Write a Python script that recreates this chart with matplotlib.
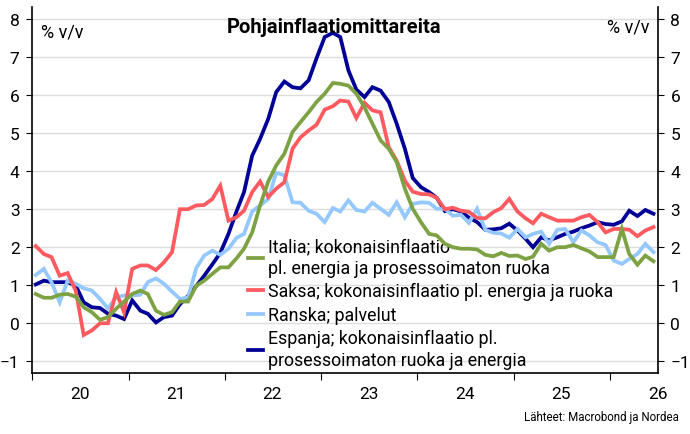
import numpy as np
import pandas as pd
import matplotlib
matplotlib.use("Agg")
from matplotlib import pyplot as plt
import matplotlib.dates as mdates
from datetime import datetime

plt.rcParams['font.family'] = ['Roboto', 'DejaVu Sans']

# Monthly data, Jan 2020 .. Jun 2026 (% y/y)
months = pd.date_range("2020-01-01", periods=78, freq="MS") + pd.Timedelta(days=14)

italy = [0.77, 0.67, 0.67, 0.75, 0.77, 0.70, 0.42, 0.29, 0.09, 0.16, 0.38, 0.57,
         0.77, 0.86, 0.77, 0.33, 0.22, 0.29, 0.57, 0.57, 0.99, 1.12, 1.30, 1.47,
         1.47, 1.71, 1.96, 2.39, 3.10, 3.73, 4.15, 4.46, 5.03, 5.29, 5.55, 5.82,
         6.04, 6.32, 6.30, 6.25, 6.04, 5.68, 5.25, 4.81, 4.59, 4.24, 3.54, 3.01,
         2.66, 2.35, 2.31, 2.09, 2.00, 1.96, 1.96, 1.94, 1.80, 1.76, 1.85, 1.77,
         1.78, 1.69, 1.75, 2.09, 1.91, 2.00, 2.00, 2.06, 1.97, 1.89, 1.74, 1.74,
         1.74, 2.48, 1.82, 1.54, 1.78, 1.63]

germany = [2.03, 1.82, 1.74, 1.25, 1.32, 0.85, -0.31, -0.19, 0.0, 0.0, 0.82, 0.29,
           1.43, 1.52, 1.52, 1.40, 1.60, 1.87, 3.00, 3.00, 3.10, 3.11, 3.27, 3.62,
           2.70, 2.79, 2.96, 3.45, 3.73, 3.32, 3.54, 3.71, 4.59, 4.89, 5.07, 5.22,
           5.62, 5.71, 5.86, 5.83, 5.40, 5.80, 5.60, 5.55, 4.63, 4.28, 3.75, 3.46,
           3.40, 3.39, 3.30, 3.00, 3.04, 2.96, 2.93, 2.77, 2.76, 2.92, 3.03, 3.27,
           2.94, 2.76, 2.63, 2.88, 2.79, 2.70, 2.70, 2.70, 2.79, 2.85, 2.66, 2.39,
           2.48, 2.48, 2.46, 2.29, 2.44, 2.53]

france = [1.27, 1.43, 1.08, 0.55, 1.12, 1.04, 0.92, 0.86, 0.64, 0.39, 0.68, 0.73,
          0.73, 0.75, 1.08, 1.18, 1.04, 0.83, 0.64, 0.68, 1.45, 1.78, 1.91, 1.80,
          1.96, 2.25, 2.35, 2.94, 3.10, 3.27, 3.96, 3.89, 3.18, 3.17, 2.96, 2.88,
          2.66, 3.03, 2.94, 3.23, 2.98, 2.94, 3.17, 3.01, 2.85, 3.18, 2.79, 3.14,
          3.18, 3.17, 3.01, 3.01, 2.83, 2.85, 2.64, 3.01, 2.46, 2.38, 2.36, 2.25,
          2.48, 2.26, 2.35, 2.41, 2.09, 2.46, 2.48, 2.13, 2.44, 2.31, 2.13, 2.06,
          1.65, 1.56, 1.69, 1.82, 2.09, 1.87]

spain = [1.02, 1.12, 1.08, 1.08, 1.08, 0.99, 0.55, 0.42, 0.40, 0.25, 0.20, 0.11,
         0.60, 0.33, 0.25, 0.02, 0.16, 0.20, 0.50, 0.72, 0.98, 1.25, 1.55, 1.85,
         2.35, 2.95, 3.45, 4.41, 4.85, 5.38, 6.08, 6.36, 6.21, 6.18, 6.39, 6.97,
         7.53, 7.64, 7.53, 6.65, 6.15, 5.95, 6.21, 6.12, 5.82, 5.25, 4.59, 3.82,
         3.58, 3.45, 3.30, 2.95, 3.00, 2.94, 2.78, 2.66, 2.46, 2.47, 2.50, 2.62,
         2.44, 2.22, 2.00, 2.26, 2.18, 2.26, 2.35, 2.41, 2.50, 2.57, 2.66, 2.61,
         2.59, 2.68, 2.96, 2.82, 2.98, 2.88]

labels = ["Italia; kokonaisinflaatio\npl. energia ja prosessoimaton ruoka",
          "Saksa; kokonaisinflaatio pl. energia ja ruoka",
          "Ranska; palvelut",
          "Espanja; kokonaisinflaatio pl.\nprosessoimaton ruoka ja energia"]
colors = ["#7da243", "#ff5a5f", "#94c8ff", "#000096"]
series = [italy, germany, france, spain]

fig = plt.figure(figsize=(6.9, 4.35), dpi=100)
ax = fig.add_axes([0.0464, 0.1402, 0.9072, 0.8414])

lines = [None] * 4
# Spain drawn first, Italy on top
for i in [3, 2, 1, 0]:
    lines[i], = ax.plot(months, series[i], color=colors[i], lw=2.7,
                        solid_joinstyle="miter", zorder=3 + (3 - i))

ax.set_ylim(-1.31, 8.32)
ax.set_xlim(datetime(2020, 1, 1), datetime(2026, 7, 2))
ax.set_yticks(range(-1, 9))
ax.grid(axis="y", color="#dcdcdc", lw=1.0, zorder=0)

ax.xaxis.set_major_locator(mdates.YearLocator())
ax.xaxis.set_major_formatter(plt.NullFormatter())
ax.xaxis.set_minor_locator(mdates.MonthLocator(bymonth=7))
ax.xaxis.set_minor_formatter(mdates.DateFormatter("%y"))
ax.tick_params(axis="x", which="major", length=5, direction="out")
ax.tick_params(axis="x", which="minor", length=0, labelsize=12.5, pad=9)
ax.tick_params(axis="y", which="both", labelsize=12.5, length=4, left=True,
               right=True, labelleft=True, labelright=True, pad=5)

ax.spines["top"].set_visible(False)
for s in ["left", "right", "bottom"]:
    ax.spines[s].set_linewidth(1.2)

ax.text(0.014, 0.958, "% v/v", transform=ax.transAxes, fontsize=13, va="top", ha="left")
ax.text(0.987, 0.97, "% v/v", transform=ax.transAxes, fontsize=13, va="top", ha="right")
ax.text(0.482, 0.972, "Pohjainflaatiomittareita", transform=ax.transAxes,
        fontsize=14.5, fontweight="bold", va="top", ha="center")

leg = ax.legend(lines, labels, loc="upper left", bbox_to_anchor=(0.345, 0.372),
                frameon=False, fontsize=12.8, handlelength=0.85, handletextpad=0.3,
                labelspacing=0.3, borderpad=0, borderaxespad=0)
for t in leg.get_texts():
    t.set_linespacing(1.3)

fig.text(0.984, 0.04, "Lähteet: Macrobond ja Nordea", fontsize=8.3,
         ha="right", va="center")

plt.savefig("out.png", dpi=100)
